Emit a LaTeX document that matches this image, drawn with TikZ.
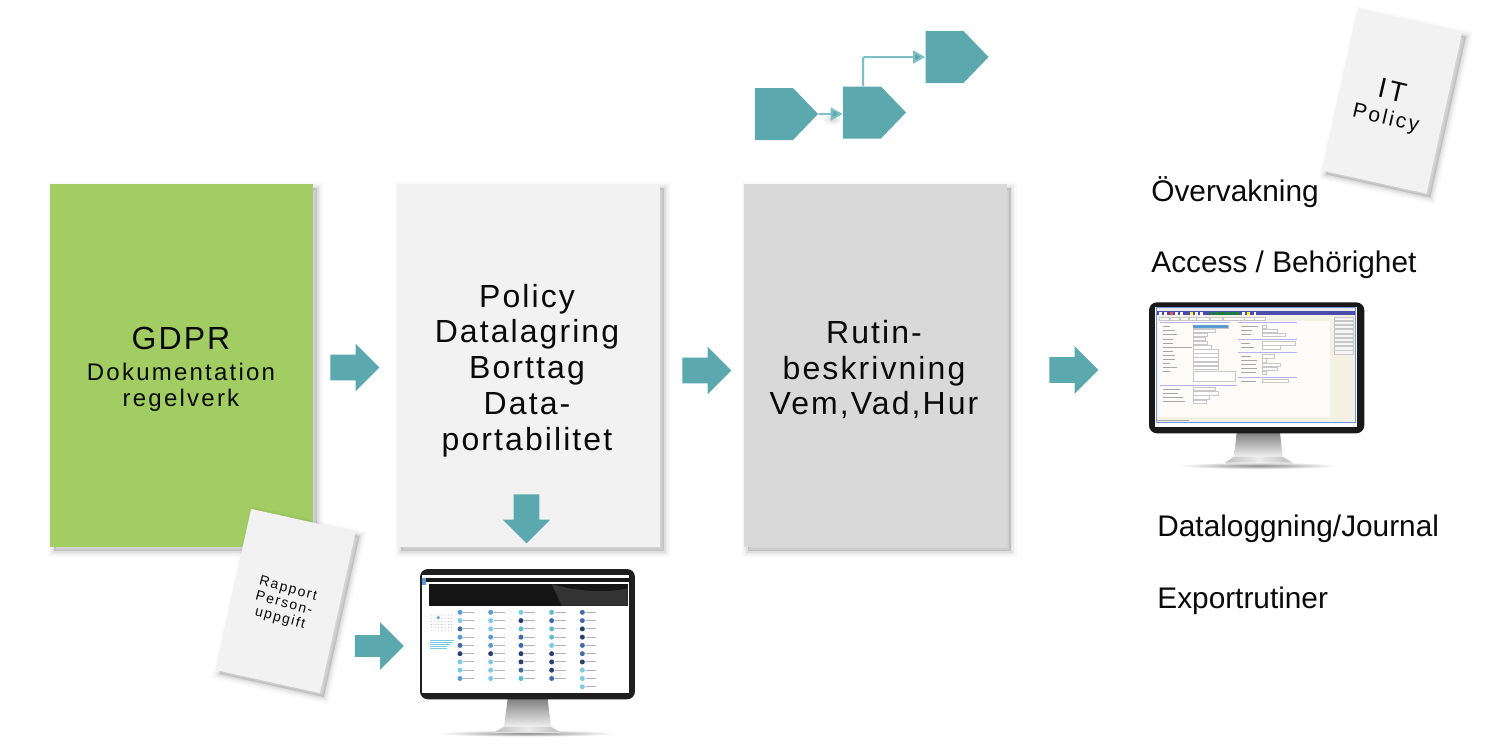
\documentclass[tikz,border=0pt]{standalone}
\usepackage{fontspec}
\setmainfont{Liberation Sans}
\newfontfamily\wide[LetterSpace=6.5]{Liberation Sans}
\newfontfamily\widesmall[LetterSpace=11]{Liberation Sans}
\newfontfamily\widemid[LetterSpace=9.3]{Liberation Sans}
\usetikzlibrary{shapes.arrows,shapes.symbols,arrows.meta}
\definecolor{teal1}{HTML}{5BA9AE}
\definecolor{teal2}{HTML}{7FC0C4}
\definecolor{green1}{HTML}{A2CD63}
\definecolor{light1}{HTML}{F2F2F2}
\definecolor{mid1}{HTML}{D9D9D9}
\definecolor{ink}{HTML}{0A0A0A}
\definecolor{icA}{HTML}{5B9BD5}
\definecolor{icB}{HTML}{7CCBE6}
\definecolor{icC}{HTML}{27406F}
\definecolor{icD}{HTML}{3F6CA8}
\definecolor{icE}{HTML}{5CC0CC}
\definecolor{frameblue}{HTML}{6F93DC}
\definecolor{panel}{HTML}{F4F1E4}
\tikzset{
  softshadow/.style={
    preaction={fill=black,draw=black,line width=6pt,opacity=.018,transform canvas={shift={(2pt,-2pt)}}},
    preaction={fill=black,draw=black,line width=4.5pt,opacity=.025,transform canvas={shift={(2pt,-2pt)}}},
    preaction={fill=black,draw=black,line width=3pt,opacity=.035,transform canvas={shift={(2pt,-2pt)}}},
    preaction={fill=black,draw=black,line width=1.5pt,opacity=.05,transform canvas={shift={(2pt,-2pt)}}}},
  bigbox/.style={minimum width=131.5pt,minimum height=181.5pt,inner sep=0pt,softshadow},
  boxtext/.style={inner sep=0pt,align=center,text=ink,font=\wide\fontsize{16}{17.9}\selectfont},
  card/.style={fill=light1,minimum width=53.5pt,minimum height=82.5pt,inner sep=0pt,rotate=-12.5,softshadow},
  blockarrow/.style={shape=single arrow,fill=teal1,minimum height=24.5pt,minimum width=23.5pt,
    single arrow head extend=5.5pt,single arrow tip angle=90,single arrow head indent=0pt,inner xsep=0pt,inner ysep=6.25pt},
  procshape/.style={shape=signal,signal to=east,signal pointer angle=92,fill=teal1,minimum width=31.5pt,minimum height=26pt,inner sep=0pt},
  flow/.style={draw=teal2,line width=1pt,-{Triangle[length=6pt,width=6.5pt,fill=teal1]}},
  sidetext/.style={anchor=west,inner sep=0pt,text=ink,font=\fontsize{14.9}{17}\selectfont},
  thinline/.style={line width=.35pt,draw=black!35},
  field/.style={fill=white,draw=black!22,line width=.2pt},
}
\begin{document}
\begin{tikzpicture}[x=.5pt,y=-.5pt]
\useasboundingbox (0,0) rectangle (1500,755);
\fill[white] (0,0) rectangle (1500,755);

% main boxes
\node[bigbox,fill=green1] (gdpr) at (181.5,365.5) {};
\node[bigbox,fill=light1] (policy) at (528.5,365.5) {};
\node[bigbox,fill=mid1] (rutin) at (875,365.5) {};
\node[inner sep=0pt,align=center,text=ink,font=\widemid\fontsize{12}{13}\selectfont] (gdprtext) at (181,369) {{\wide\fontsize{16}{13}\selectfont GDPR}\\[2.5pt]Dokumentation\\regelverk};
\node[boxtext] (policytext) at (527,370.5) {Policy\\Datalagring\\Borttag\\Data-\\portabilitet};
\node[boxtext] (rutintext) at (874,369.5) {Rutin-\\beskrivning\\Vem,Vad,Hur};

% block arrows
\node[blockarrow] (a1) at (348.5,367.5) {};
\node[blockarrow] (a2) at (700.5,370.5) {};
\node[blockarrow] (a3) at (1067.5,370) {};
\node[blockarrow,shape border rotate=270,inner xsep=6.25pt,inner ysep=0pt] (a4) at (526.5,512.5) {};
\node[blockarrow,inner ysep=5.25pt,single arrow head extend=6.5pt] (a5) at (374,646) {};

% process chain
\shade[inner color=black!30,outer color=white,opacity=.5] (832,119) ellipse (10 and 6);
\node[procshape] (p1) at (774,114) {};
\node[procshape] (p2) at (862,112.5) {};
\node[procshape] (p3) at (944.5,57) {};
\coordinate (p2up) at (863,86);
\draw[flow] (p1.east) -- (p2.west |- p1.east);
\draw[flow,rounded corners=1pt] (p2up) |- (p3.west);

% cards
\node[card] (itcard) at (1392,101.5) {};
\node[inner sep=0pt,align=center,text=ink,rotate=-13] (ittext) at (1389,105) {{\widesmall\fontsize{14}{15}\selectfont IT}\\[.6pt]{\widesmall\fontsize{10.5}{12.5}\selectfont Policy}};
\node[card] (rapport) at (285.5,601) {};
\node[inner sep=0pt,align=center,text=ink,rotate=-15,font=\widesmall\fontsize{7}{7.6}\selectfont] (rapporttext) at (284,604) {Rapport\\Person-\\uppgift};

% side texts
\node[sidetext] (t1) at (1151,192) {Övervakning};
\node[sidetext] (t2) at (1151,264.5) {Access / Behörighet};
\node[sidetext] (t3) at (1157,528.5) {Dataloggning/Journal};
\node[sidetext] (t4) at (1157,600.5) {Exportrutiner};

% monitor 1 (zoomed coordinates)
\begin{scope}[shift={(1130,290)},x=.5pt/3,y=-.5pt/3]
  \shade[inner color=black!45,outer color=white] (385,527) ellipse (240 and 10);
  \shade[top color=black!50,bottom color=black!6] (320,428) -- (450,428) -- (458,500) -- (312,500) -- cycle;
  \shade[left color=black!25,right color=black!25,middle color=black!8] (312,500) -- (458,500) -- (488,518) -- (285,518) -- cycle;
  \fill[black!12] (285,518) rectangle (488,522);
  \fill[black!90,rounded corners=4pt] (57,37) rectangle (703,430);
  \fill[white] (75,50) rectangle (682,410);
  \fill[frameblue] (77,52) rectangle (679,400);
  \fill[black!8] (80,53) rectangle (675,63);
  \fill[blue!55!black!70] (80,64) rectangle (675,76);
  \foreach \xx/\cc in {92/white,107/white,125/red!70,140/white,155/white,185/yellow!80,200/white,215/white,248/green!60!black,263/green!60!black,278/green!60!black,293/green!60!black,308/green!60!black,322/green!60!black,340/white,355/yellow!80,375/white}
    \fill[\cc] (\xx-4,66) rectangle (\xx+4,74);
  \fill[panel] (80,76) rectangle (675,397);
  \fill[white!70!panel] (85,93) rectangle (600,380);
  \foreach \xa/\xb in {87/118,120/148,150/176,178/198,200/238,240/278,280/342,344/372,374/405}
    \draw[field] (\xa,81) rectangle (\xb,92);
  \draw[thinline,draw=blue!30] (90,97) -- (300,97);
  \draw[thinline,draw=blue!30] (323,97) -- (500,97);
  \draw[thinline,draw=blue!30] (323,148) -- (500,148);
  \draw[thinline,draw=blue!30] (323,187) -- (500,187);
  \draw[thinline,draw=blue!30] (323,261) -- (500,261);
  \draw[thinline,draw=blue!30] (90,285) -- (320,285);
  \foreach \yy/\xe/\len in {110/295/20,122/255/35,134/232/40,147/225/28,159/232/30,172/243/85,184/265/30,196/265/35,208/265/35,221/265/20,233/265/40,297/255/50,310/265/45,322/238/60,335/228/65}{
    \draw[field] (190,\yy-5) rectangle (\xe,\yy+5);
    \draw[thinline] (100,\yy) -- ++(\len,0);
  }
  \fill[icA] (190,105) rectangle (295,115);
  \draw[field] (190,243) rectangle (315,274);
  \draw[thinline] (100,245) -- ++(20,0);
  \foreach \yy/\xe/\len in {110/408/52,122/442/35,134/465/30,160/495/28,172/450/40,199/432/30,211/408/50,224/452/45,236/442/50,248/408/45,273/475/45}{
    \draw[field] (398,\yy-5) rectangle (\xe,\yy+5);
    \draw[thinline] (332,\yy) -- ++(\len,0);
  }
  \foreach \yy in {86,98,111,124,137,150,162,175,187}
    \draw[field,fill=black!4] (612,\yy-5) rectangle (670,\yy+5);
  \draw[thinline] (82,391) -- (178,391);
\end{scope}

% monitor 2 (zoomed coordinates)
\begin{scope}[shift={(405,560)},x=.5pt/3,y=-.5pt/3]
  \shade[inner color=black!45,outer color=white] (365,520) ellipse (265 and 10);
  \shade[top color=black!50,bottom color=black!6] (308,416) -- (428,416) -- (438,500) -- (297,500) -- cycle;
  \shade[left color=black!25,right color=black!25,middle color=black!8] (297,500) -- (438,500) -- (465,516) -- (270,516) -- cycle;
  \fill[black!12] (270,516) rectangle (465,520);
  \fill[black!88,rounded corners=4pt] (45,27) rectangle (690,418);
  \fill[white] (52,46) rectangle (672,398);
  \fill[black!90] (52,55) rectangle (672,65);
  \fill[icA] (52,55) rectangle (64,75);
  \fill[black!92] (72,72) rectangle (668,137);
  \fill[black!80] (440,72) .. controls (520,95) and (600,100) .. (668,85) -- (668,137) -- (470,137) -- cycle;
  \foreach \xx in {0,...,6}\foreach \yy in {0,...,5}
    \fill[black!30] (80+\xx*10,165+\yy*9.5) circle (1.5);
  \fill[icA] (100,173) circle (5);
  \foreach \yy/\len in {240/70,246/68,252/60,258/50,264/50}
    \draw[line width=.4pt,draw=icB] (76,\yy) -- ++(\len,0);
  \foreach \xx/\cols in {165/{icA,icB,icD,icA,icD,icC,icB,icB,icA},
                         257/{icA,icB,icB,icA,icA,icC,icB,icB,icB},
                         348/{icB,icC,icE,icD,icD,icC,icC,icD,icE},
                         440/{icE,icD,icE,icE,icB,icC,icC,icC,icD}}{
    \foreach \cc [count=\r from 0] in \cols {
      \fill[\cc] (\xx,157+\r*24.8) circle (7.5);
      \draw[line width=.5pt,draw=black!30] (\xx+10,157+\r*24.8) -- ++(32,0);
    }
  }
  \foreach \cc [count=\r from 0] in {icD,icD,icC,icC,icD,icD,icC,icB,icB,icB} {
    \fill[\cc] (532,157+\r*24.8) circle (7.5);
    \draw[line width=.5pt,draw=black!30] (542,157+\r*24.8) -- ++(32,0);
  }
\end{scope}
\end{tikzpicture}
\end{document}
